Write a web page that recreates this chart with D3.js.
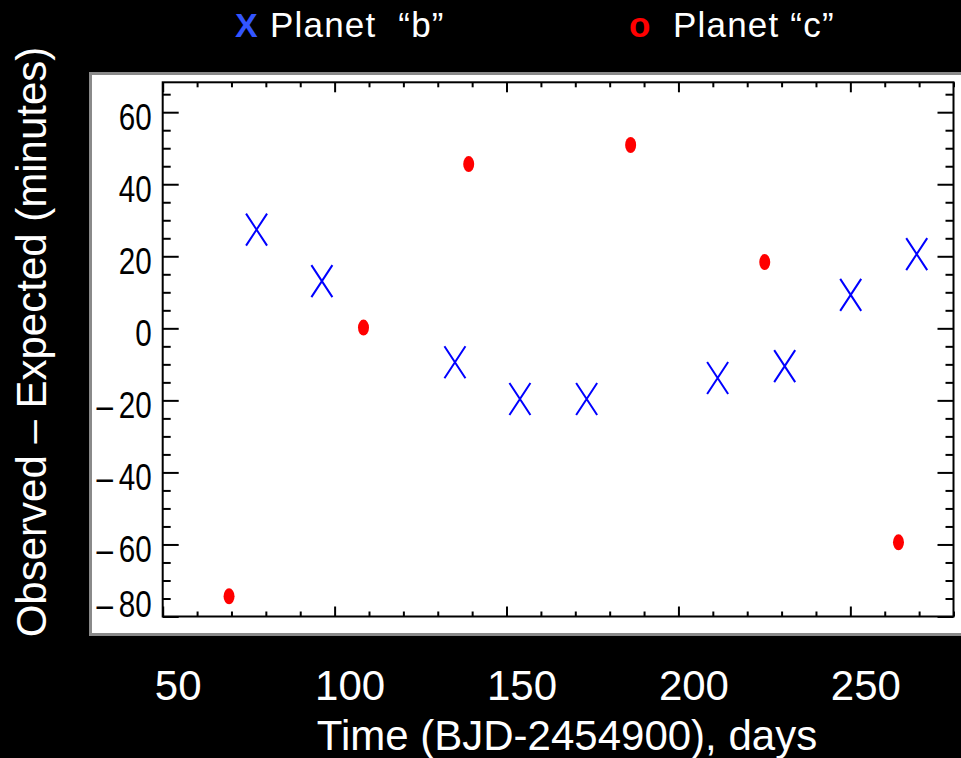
<!DOCTYPE html>
<html>
<head>
<meta charset="utf-8">
<script src="https://cdn.jsdelivr.net/npm/d3@7"></script>
<style>
  html, body { margin: 0; padding: 0; background: #000; }
  svg { display: block; }
</style>
</head>
<body>
<script>
// ---- Data ----
const planetBDays = [77.3, 96.3, 135.0, 153.9, 173.3, 211.4, 230.9, 250.1, 269.3];
const planetBOmc  = [27.4, 13.1, -9.4, -19.6, -19.6, -13.8, -10.5, 9.3, 20.6];
const planetCDays = [69.3, 108.4, 139.0, 186.1, 225.1, 264.0];
const planetCOmc  = [-74.4, 0.2, 45.6, 50.9, 18.4, -59.4];
const xTickLabels = [50, 100, 150, 200, 250];
const yTickLabels = [60, 40, 20, 0, -20, -40, -60, -80];
const legendLabels = ["Planet  \u201Cb\u201D", "Planet \u201Cc\u201D"];

const W = 961, H = 758;
const plot = { left: 162.7, right: 953.5, top: 82.3, bottom: 616.5 };

const svg = d3.select("body").append("svg")
  .attr("width", W).attr("height", H)
  .style("background", "#000");

const x = d3.scaleLinear().domain([50, 280]).range([plot.left, plot.right]);
const y = d3.scaleLinear().domain([-80, 68.3]).range([plot.bottom, plot.top]);

// white panel
svg.append("rect")
  .attr("x", 90.5).attr("y", 73.5)
  .attr("width", 900).attr("height", 561)
  .attr("fill", "#fff").attr("stroke", "#8a8a8a").attr("stroke-width", 3);

const sans = "'Liberation Sans', Arial, Helvetica, sans-serif";

function styleTicks(g) {
  g.select(".domain").remove();
  g.selectAll("line").attr("stroke", "#000").attr("stroke-width", 2);
}

const xMajor = d3.range(50, 281, 50);
const xMinor = d3.range(50, 281, 10).filter(v => v % 50 !== 0);
const yMajor = d3.range(-80, 61, 20);
const yMinor = d3.range(-75, 68, 5).filter(v => v % 20 !== 0);

// bottom ticks
svg.append("g").attr("transform", `translate(0,${plot.bottom})`)
  .call(d3.axisBottom(x).tickValues(xMajor).tickSize(-10).tickFormat(""))
  .call(styleTicks);
svg.append("g").attr("transform", `translate(0,${plot.bottom})`)
  .call(d3.axisBottom(x).tickValues(xMinor).tickSize(-5).tickFormat(""))
  .call(styleTicks);
// top ticks
svg.append("g").attr("transform", `translate(0,${plot.top})`)
  .call(d3.axisTop(x).tickValues(xMajor).tickSize(-10).tickFormat(""))
  .call(styleTicks);
svg.append("g").attr("transform", `translate(0,${plot.top})`)
  .call(d3.axisTop(x).tickValues(xMinor).tickSize(-5).tickFormat(""))
  .call(styleTicks);
// left ticks
const yAxisG = svg.append("g").attr("transform", `translate(${plot.left},0)`)
  .call(d3.axisLeft(y).tickValues(yTickLabels).tickSize(-16).tickFormat(""))
  .call(styleTicks);
// narrow (condensed) tick labels attached to each tick
yAxisG.selectAll(".tick").append("text")
  .attr("transform", d => `translate(-11,${d === -80 ? -13 : 3.5}) scale(0.8,1)`)
  .attr("text-anchor", "end")
  .attr("dy", "0.36em")
  .attr("fill", "#000")
  .style("font-family", sans)
  .style("font-size", "37px")
  .style("font-weight", "normal")
  .style("white-space", "pre")
  .text(d => d < 0 ? "\u2013\u2009" + Math.abs(d) : String(d));
svg.append("g").attr("transform", `translate(${plot.left},0)`)
  .call(d3.axisLeft(y).tickValues(yMinor).tickSize(-8).tickFormat(""))
  .call(styleTicks);
// right ticks
svg.append("g").attr("transform", `translate(${plot.right},0)`)
  .call(d3.axisRight(y).tickValues(yMajor).tickSize(-16).tickFormat(""))
  .call(styleTicks);
svg.append("g").attr("transform", `translate(${plot.right},0)`)
  .call(d3.axisRight(y).tickValues(yMinor).tickSize(-8).tickFormat(""))
  .call(styleTicks);

// frame
svg.append("rect")
  .attr("x", plot.left).attr("y", plot.top)
  .attr("width", plot.right - plot.left).attr("height", plot.bottom - plot.top)
  .attr("fill", "none").attr("stroke", "#000").attr("stroke-width", 2);

// x tick labels (white, below the panel)
const xLab = svg.append("g").attr("transform", `translate(15,${plot.bottom})`)
  .call(d3.axisBottom(x).tickValues(xTickLabels).tickSize(0).tickPadding(83));
xLab.select(".domain").remove();
xLab.selectAll("text")
  .attr("fill", "#fff")
  .style("font-family", sans)
  .style("font-size", "42px")
  .attr("dy", "0");

// axis titles
svg.append("text")
  .attr("x", 567).attr("y", 750)
  .attr("text-anchor", "middle")
  .attr("fill", "#fff")
  .style("font-family", sans).style("font-size", "42px")
  .text("Time (BJD-2454900), days");

svg.append("text")
  .attr("transform", "translate(46,342) rotate(-90)")
  .attr("text-anchor", "middle")
  .attr("fill", "#fff")
  .style("font-family", sans).style("font-size", "42px")
  .text("Observed \u2013 Expected (minutes)");

// data: planet c (red filled ellipses)
const cData = planetCDays.map((d, i) => ({ t: d, v: planetCOmc[i] }));
svg.append("g").selectAll("ellipse").data(cData).join("ellipse")
  .attr("cx", d => x(d.t)).attr("cy", d => y(d.v))
  .attr("rx", 5.5).attr("ry", 8)
  .attr("fill", "#ff0000");

// data: planet b (blue X)
const bData = planetBDays.map((d, i) => ({ t: d, v: planetBOmc[i] }));
const hw = 10.5, hh = 16;
svg.append("g").selectAll("path").data(bData).join("path")
  .attr("d", d => {
    const cx = x(d.t), cy = y(d.v);
    return `M${cx - hw},${cy - hh}L${cx + hw},${cy + hh}M${cx + hw},${cy - hh}L${cx - hw},${cy + hh}`;
  })
  .attr("fill", "none").attr("stroke", "#0000ff").attr("stroke-width", 2);

// legend
const leg = svg.append("g");
leg.append("text").attr("x", 235).attr("y", 37)
  .attr("fill", "#3355ff").style("font-family", sans)
  .style("font-size", "34px").style("font-weight", "bold").text("X");
leg.append("text").attr("x", 270).attr("y", 37)
  .attr("fill", "#fff").style("font-family", sans)
  .style("font-size", "35px").style("letter-spacing", "1.2px").style("white-space", "pre")
  .attr("xml:space", "preserve")
  .text(legendLabels[0]);
leg.append("text").attr("x", 629).attr("y", 37)
  .attr("fill", "#ff0000").style("font-family", sans)
  .style("font-size", "35px").style("font-weight", "bold").text("o");
leg.append("text").attr("x", 673).attr("y", 37)
  .attr("fill", "#fff").style("font-family", sans)
  .style("font-size", "35px").style("letter-spacing", "1.2px")
  .text(legendLabels[1]);
</script>
</body>
</html>
